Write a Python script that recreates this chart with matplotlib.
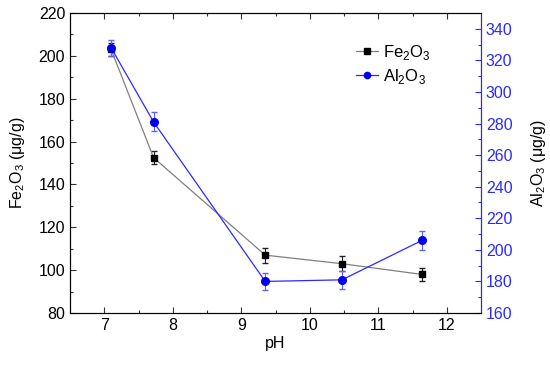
import matplotlib.pyplot as plt
from matplotlib.lines import Line2D

plt.rcParams['font.family'] = ['Liberation Sans', 'DejaVu Sans']
plt.rcParams['mathtext.fontset'] = 'custom'
plt.rcParams['mathtext.rm'] = 'Liberation Sans'

# data
ph = [7.1, 7.72, 9.35, 10.47, 11.64]
fe2o3 = [203, 152.5, 107, 103, 98]
fe2o3_err = [3, 3, 3.5, 3.5, 3]
al2o3 = [328, 281, 180, 181, 206]
al2o3_err = [5, 6, 5.5, 5.5, 6]

blue = '#2a2aff'

fig = plt.figure(figsize=(5.5, 3.65), dpi=100)
ax = fig.add_axes([70 / 550, 52 / 365, 411 / 550, 300 / 365])
ax2 = ax.twinx()

ax.errorbar(ph, fe2o3, yerr=fe2o3_err, color='gray', lw=0.9, marker='s', ms=4.5,
            mfc='black', mec='black', ecolor='#222222', elinewidth=0.8, capsize=2.5)
ax2.errorbar(ph, al2o3, yerr=al2o3_err, color=blue, lw=0.9, marker='o', ms=5.5,
             mfc='#0000ee', mec='#0000ee', ecolor='#6060ff', elinewidth=0.8, capsize=2.5)

ax.set_xlim(6.5, 12.5)
ax.set_ylim(80, 220)
ax2.set_ylim(160, 350)
ax.set_xticks([7, 8, 9, 10, 11, 12])
ax.set_xticks([7.5, 8.5, 9.5, 10.5, 11.5], minor=True)
ax.set_yticks(range(80, 221, 20))
ax.set_yticks(range(90, 220, 20), minor=True)
ax2.set_yticks(range(160, 341, 20))
ax2.set_yticks(range(170, 350, 20), minor=True)

ax.tick_params(which='both', direction='in', top=True, labelsize=11.5, width=0.8, color='#333333')
ax.tick_params(which='major', length=4)
ax.tick_params(which='minor', length=2.5)
ax2.tick_params(which='both', direction='in', labelsize=11.5, colors=blue, width=0.8)
ax2.tick_params(which='major', length=4)
ax2.tick_params(which='minor', length=2.5)
ax2.spines['right'].set_color(blue)
for s in ['left', 'top', 'bottom']:
    ax.spines[s].set_color('#333333')

ax.set_xlabel('pH', fontsize=11.5, labelpad=2)
ax.set_ylabel(r'Fe$_2$O$_3$ (μg/g)', fontsize=11.5, labelpad=8)
ax2.set_ylabel(r'Al$_2$O$_3$ (μg/g)', fontsize=11.5, labelpad=12)

handles = [
    Line2D([], [], color='gray', lw=0.9, marker='s', ms=4, mfc='black', mec='black'),
    Line2D([], [], color=blue, lw=0.9, marker='o', ms=4.5, mfc='#0000ee', mec='#0000ee'),
]
ax.legend(handles, [r'Fe$_2$O$_3$', r'Al$_2$O$_3$'], loc='upper left',
          bbox_to_anchor=(0.66, 0.95), frameon=False, fontsize=12,
          handlelength=1.3, handletextpad=0.3, labelspacing=0.3)

fig.savefig('out.png', dpi=100)
